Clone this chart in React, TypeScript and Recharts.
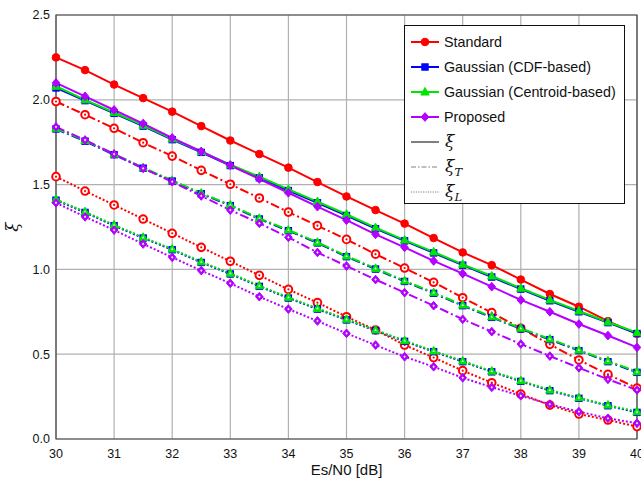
import React from 'react';
import { LineChart, Line, XAxis, YAxis, CartesianGrid, ReferenceArea, Legend } from 'recharts';

const snr = [30, 30.5, 31, 31.5, 32, 32.5, 33, 33.5, 34, 34.5, 35, 35.5, 36, 36.5, 37, 37.5, 38, 38.5, 39, 39.5, 40];

const stdXi = [2.25, 2.175, 2.09, 2.01, 1.93, 1.845, 1.76, 1.68, 1.6, 1.515, 1.43, 1.35, 1.27, 1.185, 1.1, 1.025, 0.94, 0.855, 0.78, 0.695, 0.62];
const stdXiT = [1.99, 1.912, 1.832, 1.747, 1.668, 1.584, 1.502, 1.421, 1.338, 1.258, 1.177, 1.09, 1.008, 0.924, 0.833, 0.745, 0.653, 0.558, 0.466, 0.381, 0.3];
const stdXiL = [1.547, 1.462, 1.38, 1.297, 1.213, 1.13, 1.048, 0.965, 0.882, 0.804, 0.721, 0.643, 0.554, 0.48, 0.403, 0.332, 0.265, 0.2, 0.147, 0.112, 0.073];

const cdfXi = [2.07, 1.995, 1.92, 1.845, 1.765, 1.69, 1.612, 1.54, 1.465, 1.393, 1.318, 1.24, 1.168, 1.097, 1.025, 0.955, 0.884, 0.815, 0.75, 0.686, 0.622];
const cdfXiT = [1.828, 1.756, 1.676, 1.597, 1.521, 1.446, 1.376, 1.297, 1.228, 1.156, 1.075, 1.002, 0.929, 0.859, 0.786, 0.717, 0.649, 0.586, 0.521, 0.456, 0.393];
const cdfXiL = [1.408, 1.336, 1.258, 1.185, 1.116, 1.041, 0.973, 0.9, 0.831, 0.766, 0.702, 0.639, 0.576, 0.515, 0.456, 0.396, 0.34, 0.285, 0.24, 0.196, 0.157];

const cenXi = [2.08, 2.0, 1.925, 1.85, 1.77, 1.695, 1.617, 1.547, 1.472, 1.4, 1.325, 1.246, 1.173, 1.103, 1.03, 0.961, 0.889, 0.82, 0.755, 0.69, 0.627];
const cenXiT = [1.832, 1.76, 1.68, 1.6, 1.525, 1.45, 1.38, 1.301, 1.232, 1.16, 1.079, 1.006, 0.933, 0.863, 0.79, 0.721, 0.653, 0.59, 0.525, 0.46, 0.397];
const cenXiL = [1.413, 1.34, 1.262, 1.189, 1.12, 1.045, 0.977, 0.904, 0.835, 0.77, 0.706, 0.643, 0.58, 0.519, 0.46, 0.4, 0.344, 0.289, 0.244, 0.2, 0.161];

const propXi = [2.1, 2.02, 1.94, 1.86, 1.775, 1.695, 1.614, 1.533, 1.452, 1.37, 1.29, 1.207, 1.13, 1.05, 0.975, 0.898, 0.82, 0.75, 0.678, 0.61, 0.54];
const propXiT = [1.84, 1.763, 1.68, 1.596, 1.517, 1.433, 1.35, 1.272, 1.189, 1.1, 1.02, 0.94, 0.863, 0.786, 0.706, 0.633, 0.56, 0.489, 0.42, 0.352, 0.289];
const propXiL = [1.393, 1.31, 1.232, 1.15, 1.071, 0.993, 0.918, 0.839, 0.766, 0.696, 0.623, 0.554, 0.485, 0.426, 0.361, 0.305, 0.255, 0.205, 0.161, 0.122, 0.093];

const xTicks = [30, 31, 32, 33, 34, 35, 36, 37, 38, 39, 40];
const yTicks = [0, 0.5, 1, 1.5, 2, 2.5];

const methodNames = ['Standard', 'Gaussian (CDF-based)', 'Gaussian (Centroid-based)', 'Proposed'];

const RED = '#ff0000';
const BLUE = '#0000ff';
const GREEN = '#00e600';
const PURPLE = '#b400ff';

const data = snr.map((x, i) => ({
  x,
  stdXi: stdXi[i], stdXiT: stdXiT[i], stdXiL: stdXiL[i],
  cdfXi: cdfXi[i], cdfXiT: cdfXiT[i], cdfXiL: cdfXiL[i],
  cenXi: cenXi[i], cenXiT: cenXiT[i], cenXiL: cenXiL[i],
  propXi: propXi[i], propXiT: propXiT[i], propXiL: propXiL[i],
}));

type Shape = 'circle' | 'square' | 'triangle' | 'diamond';

function shapeEl(shape: Shape, cx: number, cy: number, s: number, fill: string, stroke: string, sw: number) {
  if (shape === 'circle') return <circle cx={cx} cy={cy} r={s} fill={fill} stroke={stroke} strokeWidth={sw} />;
  if (shape === 'square') return <rect x={cx - s} y={cy - s} width={2 * s} height={2 * s} fill={fill} stroke={stroke} strokeWidth={sw} />;
  if (shape === 'triangle') {
    const p = `${cx},${cy - s * 1.2} ${cx + s * 1.1},${cy + s * 0.8} ${cx - s * 1.1},${cy + s * 0.8}`;
    return <polygon points={p} fill={fill} stroke={stroke} strokeWidth={sw} />;
  }
  const p = `${cx},${cy - s * 1.15} ${cx + s},${cy} ${cx},${cy + s * 1.15} ${cx - s},${cy}`;
  return <polygon points={p} fill={fill} stroke={stroke} strokeWidth={sw} />;
}

function makeDot(shape: Shape, color: string, hollow: boolean) {
  return (props: any) => {
    const { cx, cy, index } = props;
    if (cx == null || cy == null) return <g key={index} />;
    if (!hollow) {
      return <g key={index}>{shapeEl(shape, cx, cy, shape === 'square' ? 3.2 : 3.8, color, color, 1)}</g>;
    }
    if (shape === 'circle') {
      return (
        <g key={index}>
          <circle cx={cx} cy={cy} r={3.8} fill="#fff" stroke={color} strokeWidth={2} />
          <circle cx={cx} cy={cy} r={1.1} fill={color} />
        </g>
      );
    }
    return (
      <g key={index}>
        {shapeEl(shape, cx, cy, shape === 'square' ? 3.2 : 3.8, color, color, 1)}
        {shapeEl(shape, cx, cy, 1.2, '#d8ffd8', 'none', 0)}
      </g>
    );
  };
}

const DASHDOT = '9 3 2 3';
const DOTTED = '2 2';

type SeriesDef = { key: string; color: string; shape: Shape; dash?: string; hollow: boolean };

const series: SeriesDef[] = [
  { key: 'stdXi', color: RED, shape: 'circle', hollow: false },
  { key: 'stdXiT', color: RED, shape: 'circle', dash: DASHDOT, hollow: true },
  { key: 'stdXiL', color: RED, shape: 'circle', dash: DOTTED, hollow: true },
  { key: 'cdfXi', color: BLUE, shape: 'square', hollow: false },
  { key: 'cdfXiT', color: BLUE, shape: 'square', dash: DASHDOT, hollow: true },
  { key: 'cdfXiL', color: BLUE, shape: 'square', dash: DOTTED, hollow: true },
  { key: 'cenXi', color: GREEN, shape: 'triangle', hollow: false },
  { key: 'cenXiT', color: GREEN, shape: 'triangle', dash: DASHDOT, hollow: true },
  { key: 'cenXiL', color: GREEN, shape: 'triangle', dash: DOTTED, hollow: true },
  { key: 'propXi', color: PURPLE, shape: 'diamond', hollow: false },
  { key: 'propXiT', color: PURPLE, shape: 'diamond', dash: DASHDOT, hollow: true },
  { key: 'propXiL', color: PURPLE, shape: 'diamond', dash: DOTTED, hollow: true },
];

const legendMethods: { name: string; color: string; shape: Shape }[] = [
  { name: methodNames[0], color: RED, shape: 'circle' },
  { name: methodNames[1], color: BLUE, shape: 'square' },
  { name: methodNames[2], color: GREEN, shape: 'triangle' },
  { name: methodNames[3], color: PURPLE, shape: 'diamond' },
];

const LegendBox = () => {
  const rowH = 25;
  const serif = '"DejaVu Serif", "Liberation Serif", serif';
  return (
    <div style={{ width: 221, height: 179, border: '1px solid #111', background: '#fff', boxSizing: 'border-box', position: 'relative' }}>
      <svg width={221} height={179} style={{ position: 'absolute', left: 0, top: 0 }}>
        {legendMethods.map((m, i) => {
          const y = 16 + i * rowH;
          return (
            <g key={m.name}>
              <line x1={6} x2={34} y1={y} y2={y} stroke={m.color} strokeWidth={2} />
              {shapeEl(m.shape, 20, y, m.shape === 'square' ? 3.2 : 3.8, m.color, m.color, 1)}
              <text x={39} y={y + 5} fontFamily='"Liberation Sans", Arial, sans-serif' fontSize={14.3} fill="#111">{m.name}</text>
            </g>
          );
        })}
        {[
          { dash: undefined, label: 'ξ', sub: '' },
          { dash: '5 2 1.5 2', label: 'ξ', sub: 'T' },
          { dash: '1.2 1.2', label: 'ξ', sub: 'L' },
        ].map((r, j) => {
          const y = 16 + (4 + j) * rowH;
          return (
            <g key={'s' + j}>
              <line x1={6} x2={34} y1={y} y2={y} stroke="#808080" strokeWidth={r.dash ? 1 : 2} strokeDasharray={r.dash} />
              <text x={40} y={y + 5} fontFamily={serif} fontStyle="italic" fontSize={17} fill="#111">
                {r.label}
                {r.sub ? <tspan fontSize={11.5} dy={4}>{r.sub}</tspan> : null}
              </text>
            </g>
          );
        })}
      </svg>
    </div>
  );
};

const YLabel = (props: any) => {
  const vb = props.viewBox || { x: 0, y: 0, width: 0, height: 0 };
  const cy = vb.y + vb.height / 2;
  return (
    <text x={18} y={cy} transform={`rotate(-90 18 ${cy})`} textAnchor="middle" fontFamily='"DejaVu Serif", "Liberation Serif", serif' fontStyle="italic" fontSize={17} fill="#111">
      ξ
    </text>
  );
};

export default function App() {
  return (
    <div style={{ position: 'absolute', left: 0, top: 0, width: 641, height: 481, background: '#fff' }}>
      <LineChart width={641} height={481} data={data} margin={{ top: 15, right: 4, bottom: 0, left: 0 }}>
        <CartesianGrid stroke="#b0b0b0" strokeWidth={1.2} />
        <XAxis
          dataKey="x"
          type="number"
          domain={[30, 40]}
          ticks={xTicks}
          interval={0}
          height={42}
          axisLine={false}
          tickLine={false}
          tickMargin={4}
          tick={{ fontFamily: '"Liberation Sans", Arial, sans-serif', fontSize: 12.5, fill: '#111' }}
          label={{ value: 'Es/N0 [dB]', position: 'insideBottom', offset: 6, style: { fontFamily: '"Liberation Sans", Arial, sans-serif', fontSize: 15, fill: '#111' } }}
        />
        <YAxis
          type="number"
          domain={[0, 2.5]}
          ticks={yTicks}
          interval={0}
          width={56}
          axisLine={false}
          tickLine={false}
          tickMargin={0}
          tickFormatter={(v: number) => v.toFixed(1)}
          tick={{ fontFamily: '"Liberation Sans", Arial, sans-serif', fontSize: 12.5, fill: '#111' }}
          label={<YLabel />}
        />
        <ReferenceArea x1={30} x2={40} y1={0} y2={2.5} fill="none" stroke="#444" strokeWidth={1.2} ifOverflow="visible" />
        {series.map((s) => (
          <Line
            key={s.key}
            dataKey={s.key}
            type="linear"
            stroke={s.color}
            strokeWidth={2}
            strokeDasharray={s.dash}
            dot={makeDot(s.shape, s.color, s.hollow)}
            activeDot={false}
            isAnimationActive={false}
            legendType="none"
          />
        ))}
        <Legend
          layout="horizontal"
          verticalAlign="middle"
          align="center"
          wrapperStyle={{ position: 'absolute', left: 404, top: 25, width: 221, height: 179 }}
          content={() => <LegendBox />}
        />
      </LineChart>
    </div>
  );
}
